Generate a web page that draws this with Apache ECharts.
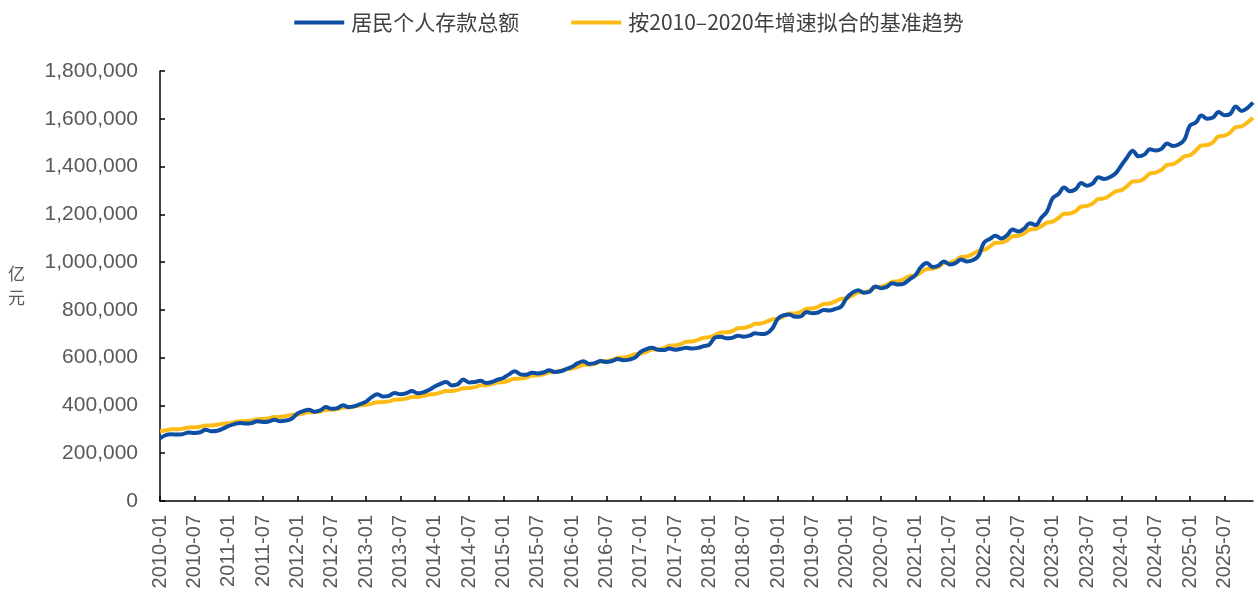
<!DOCTYPE html>
<html>
<head>
<meta charset="utf-8">
<script src="https://cdn.jsdelivr.net/npm/echarts@6/dist/echarts.min.js"></script>
<style>
html,body{margin:0;padding:0;background:#fff;}
#chart{width:1258px;height:593px;}
</style>
</head>
<body>
<div id="chart"></div>
<script>
// Series names
const seriesNames = ['居民个人存款总额', '按2010–2020年增速拟合的基准趋势'];
// Years covered (monthly data, 2010-01 .. 2025-12)
const years = [2010,2011,2012,2013,2014,2015,2016,2017,2018,2019,2020,2021,2022,2023,2024,2025];
const months = ['01','02','03','04','05','06','07','08','09','10','11','12'];

// 居民个人存款总额 (亿元), month by month per year
const deposits2010 = [262000,276000,279000,278000,280000,287000,285000,288000,298000,292000,294000,303000];
const deposits2011 = [314000,322000,327000,324000,326000,334000,331000,333000,340000,334000,337000,344000];
const deposits2012 = [366000,376000,382000,374000,379000,393000,386000,389000,401000,393000,397000,406000];
const deposits2013 = [416000,435000,447000,437000,440000,452000,447000,451000,460000,451000,455000,465000];
const deposits2014 = [479000,490000,498000,484000,488000,509000,496000,498000,503000,494000,498000,508000];
const deposits2015 = [515000,530000,543000,530000,528000,537000,534000,538000,547000,540000,543000,552000];
const deposits2016 = [562000,577000,585000,574000,577000,586000,582000,586000,594000,589000,592000,600000];
const deposits2017 = [624000,636000,641000,633000,632000,638000,633000,637000,641000,638000,641000,648000];
const deposits2018 = [655000,684000,688000,681000,683000,692000,688000,692000,702000,699000,702000,722000];
const deposits2019 = [764000,778000,781000,771000,773000,791000,786000,789000,800000,797000,804000,813000];
const deposits2020 = [850000,872000,882000,872000,876000,898000,891000,896000,912000,906000,910000,928000];
const deposits2021 = [945000,980000,996000,980000,985000,1003000,990000,996000,1011000,1003000,1008000,1025000];
const deposits2022 = [1082000,1097000,1110000,1099000,1112000,1136000,1128000,1140000,1163000,1155000,1186000,1212000];
const deposits2023 = [1268000,1285000,1312000,1297000,1305000,1331000,1320000,1330000,1355000,1348000,1356000,1372000];
const deposits2024 = [1405000,1438000,1466000,1443000,1450000,1472000,1467000,1474000,1497000,1486000,1492000,1512000];
const deposits2025 = [1572000,1584000,1614000,1600000,1605000,1628000,1615000,1620000,1651000,1633000,1645000,1668000];

// 基准趋势 (亿元)
const trend2010 = [292100,295900,300300,300600,303000,307900,308500,311200,315900,316400,319700,323800];
const trend2011 = [325000,329300,334200,334500,337100,342600,343300,346200,351400,352100,355700,360200];
const trend2012 = [361600,366300,371800,372100,375000,381200,381900,385200,391000,391700,395700,400800];
const trend2013 = [402300,407500,413600,414000,417200,424100,424900,428500,435000,435800,440200,445900];
const trend2014 = [447700,453500,460200,460700,464300,471900,472800,476800,484000,484900,489900,496100];
const trend2015 = [498000,504500,512000,512500,516500,525000,526000,530500,538500,539500,545000,551900];
const trend2016 = [554100,561400,569700,570300,574700,584100,585300,590300,599200,600300,606400,614200];
const trend2017 = [616500,624600,633900,634500,639400,649900,651200,656700,666600,667900,674700,683300];
const trend2018 = [685900,694900,705200,705900,711400,723100,724500,730700,741700,743000,750600,760200];
const trend2019 = [763200,773200,784600,785400,791500,804500,806100,813000,825200,826700,835200,845900];
const trend2020 = [849100,860200,873000,873800,880700,895100,896800,904500,918100,919800,929200,941100];
const trend2021 = [944800,957100,971300,972200,979800,995900,997800,1006300,1021500,1023400,1033800,1047100];
const trend2022 = [1051100,1064800,1080700,1081700,1090100,1108100,1110200,1119700,1136500,1138600,1150200,1165000];
const trend2023 = [1169500,1184700,1202300,1203500,1212900,1232800,1235200,1245700,1264500,1266800,1279700,1296200];
const trend2024 = [1301200,1318200,1337700,1339000,1349500,1371700,1374300,1386000,1406900,1409500,1423900,1442100];
const trend2025 = [1447700,1466600,1488400,1489900,1501500,1526200,1529100,1542100,1565400,1568300,1584200,1604600];

// Y-axis ticks
const yMin = 0, yMax = 1800000, yStep = 200000;
const yAxisName = '亿\n元';

const categories = [];
years.forEach(y => months.forEach(m => categories.push(y + '-' + m)));
const deposits = [].concat(deposits2010,deposits2011,deposits2012,deposits2013,deposits2014,deposits2015,deposits2016,deposits2017,deposits2018,deposits2019,deposits2020,deposits2021,deposits2022,deposits2023,deposits2024,deposits2025);
const trend = [].concat(trend2010,trend2011,trend2012,trend2013,trend2014,trend2015,trend2016,trend2017,trend2018,trend2019,trend2020,trend2021,trend2022,trend2023,trend2024,trend2025);

const chart = echarts.init(document.getElementById('chart'), null, {renderer:'canvas'});
const labelColor = '#595959';
const numFont = '"Liberation Sans", Arial, sans-serif';
const cjkFont = '"Noto Sans CJK SC", sans-serif';
chart.setOption({
  animation: false,
  backgroundColor: '#ffffff',
  legend: {
    top: 7,
    left: 'center',
    itemGap: 52,
    itemWidth: 50,
    itemHeight: 4,
    icon: 'rect',
    textStyle: {fontSize: 21, color: '#404040', fontFamily: cjkFont, padding: [0,0,0,2]},
    data: seriesNames
  },
  grid: {left: 160, right: 5, top: 71, bottom: 92, containLabel: false},
  xAxis: {
    type: 'category',
    data: categories,
    boundaryGap: false,
    axisLine: {lineStyle: {color: '#000', width: 1.5}},
    axisTick: {inside: true, length: 5, interval: 5, lineStyle: {color: '#000', width: 1.5}},
    axisLabel: {interval: 5, rotate: 90, fontSize: 20, color: labelColor, fontFamily: numFont, margin: 14},
    splitLine: {show: false}
  },
  yAxis: {
    type: 'value',
    min: yMin, max: yMax, interval: yStep,
    name: yAxisName,
    nameLocation: 'middle',
    nameRotate: 0,
    nameGap: 135,
    nameTextStyle: {fontSize: 17, color: labelColor, fontFamily: cjkFont, lineHeight: 24},
    axisLine: {show: true, lineStyle: {color: '#000', width: 1.5}},
    axisTick: {show: true, inside: true, length: 5, lineStyle: {color: '#000', width: 1.5}},
    axisLabel: {fontSize: 21, color: labelColor, fontFamily: numFont, margin: 22,
      formatter: v => v.toLocaleString('en-US')},
    splitLine: {show: false}
  },
  series: [
    {name: seriesNames[0], type: 'line', data: deposits, smooth: 0.4, showSymbol: false, symbol: 'none',
     lineStyle: {color: '#0E4FA3', width: 4}, itemStyle: {color: '#0E4FA3'}, z: 3},
    {name: seriesNames[1], type: 'line', data: trend, smooth: 0.4, showSymbol: false, symbol: 'none',
     lineStyle: {color: '#FDBB16', width: 4}, itemStyle: {color: '#FDBB16'}, z: 2}
  ]
});
</script>
</body>
</html>
